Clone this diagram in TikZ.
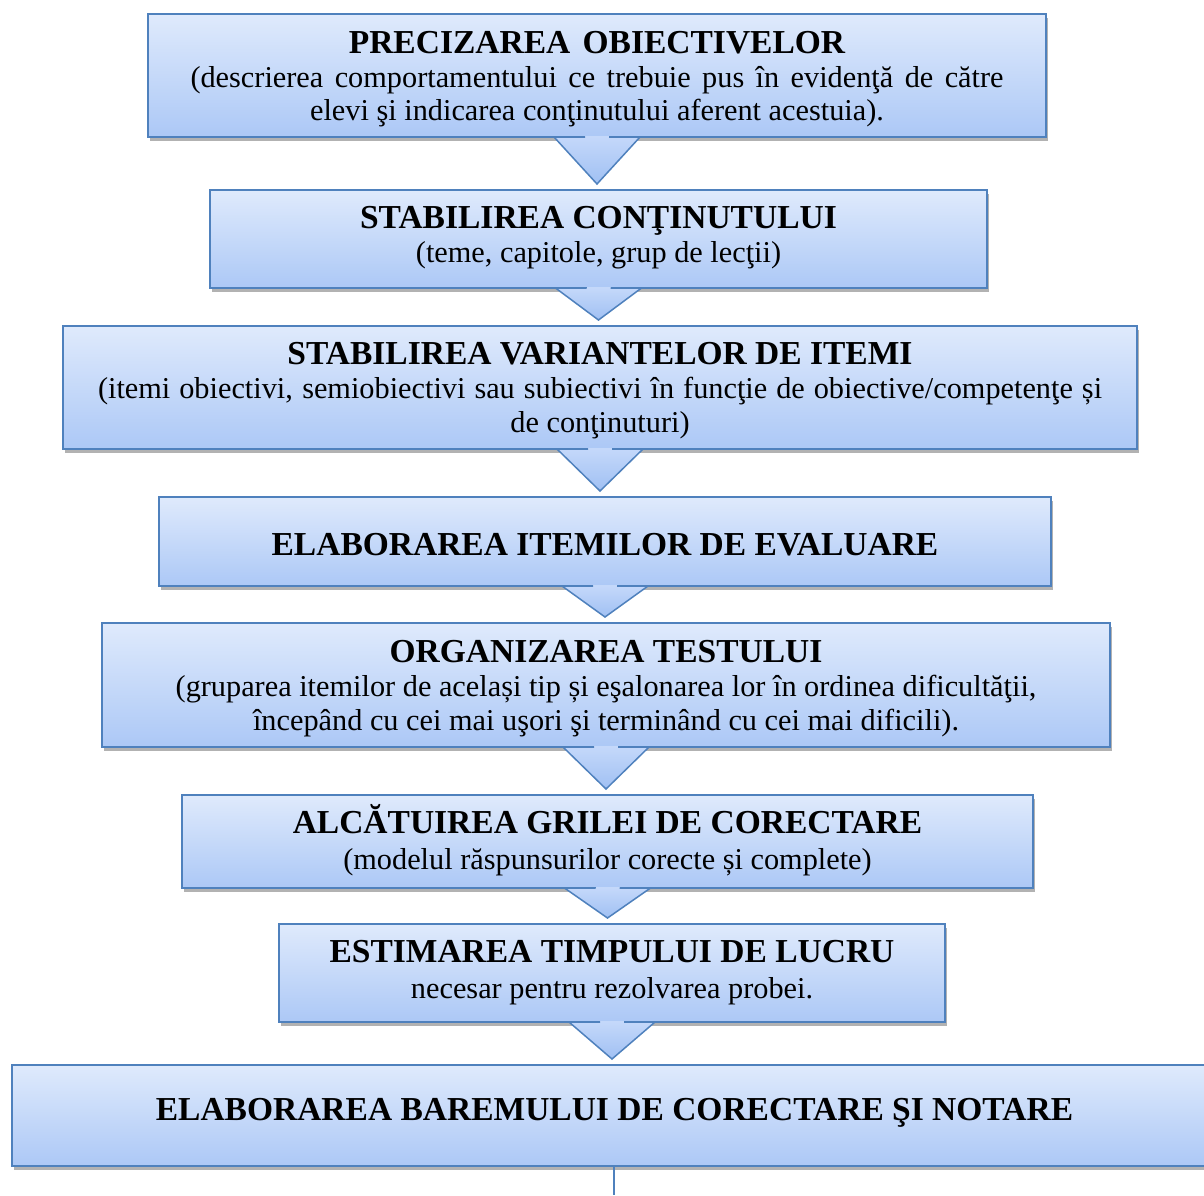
\documentclass[tikz,border=0pt]{standalone}
\usepackage{fontspec}
\setmainfont{Liberation Serif}
\usetikzlibrary{calc,shadows}
\definecolor{bordblue}{RGB}{79,129,189}
\definecolor{boxtop}{RGB}{223,234,252}
\definecolor{boxbot}{RGB}{172,200,246}
\definecolor{arrtop}{RGB}{196,216,250}
\definecolor{arrbot}{RGB}{160,192,243}
\newcommand\flowarrow[2]{%
  \path[top color=arrtop, bottom color=arrbot]
    ($(#1.south)+(-43,0)$) -- ($(#1.south)+(43,0)$) -- ($(#1.south |- #2.north)+(0,-6)$) -- cycle;
  \fill[arrtop] ($(#1.south)+(-12,-1.2)$) rectangle ($(#1.south)+(12,0.5)$);
  \draw[arrowline] ($(#1.south)+(-12,0)$) -- ($(#1.south)+(-43,0)$) -- ($(#1.south |- #2.north)+(0,-6)$) -- ($(#1.south)+(43,0)$) -- ($(#1.south)+(12,0)$);
}
\begin{document}
\begin{tikzpicture}[x=1pt,y=-1pt,
  box/.style={draw=bordblue, line width=1.5pt, top color=boxtop, bottom color=boxbot,
    outer sep=0pt, inner sep=0pt,
    drop shadow={shadow xshift=1.5pt, shadow yshift=-3.5pt, fill=black, opacity=0.3}},
  arrowline/.style={draw=bordblue, line width=1.5pt, line join=miter},
  ttl/.style={anchor=base, inner sep=0pt, font=\fontsize{33.5}{36}\selectfont\bfseries},
  bdy/.style={anchor=base, inner sep=0pt, font=\fontsize{30.3}{34}\selectfont}]
\useasboundingbox (0,0) rectangle (1204,1195);
\fill[white] (0,0) rectangle (1204,1195);
\clip (0,0) rectangle (1204,1195);

% boxes
\node[box, minimum width=898, minimum height=123] (b1) at (597,75.5) {};
\node[box, minimum width=777, minimum height=98] (b2) at (598.5,239) {};
\node[box, minimum width=1074, minimum height=123] (b3) at (600,387.5) {};
\node[box, minimum width=892, minimum height=89] (b4) at (605,541.5) {};
\node[box, minimum width=1008, minimum height=124] (b5) at (606,685) {};
\node[box, minimum width=851, minimum height=93] (b6) at (607.5,841.5) {};
\node[box, minimum width=666, minimum height=98] (b7) at (612,973) {};
\node[box, minimum width=1204, minimum height=101] (b8) at (614,1115.5) {};

% arrows
\flowarrow{b1}{b2}
\flowarrow{b2}{b3}
\flowarrow{b3}{b4}
\flowarrow{b4}{b5}
\flowarrow{b5}{b6}
\flowarrow{b6}{b7}
\flowarrow{b7}{b8}

% trailing line
\coordinate (tail) at (614,1195);
\draw[bordblue, line width=1.5pt] (b8.south) -- (tail);

% texts
\node[ttl] (t1a) at (597,53) {PRECIZAREA\hspace{4pt} OBIECTIVELOR};
\node[bdy] (t1b) at (597,87) {\makebox[813pt][s]{(descrierea comportamentului ce trebuie pus în evidenţă de către}};
\node[bdy] (t1c) at (597,120) {elevi şi indicarea conţinutului aferent acestuia).};

\node[ttl] (t2a) at (598.5,228) {STABILIREA CONŢINUTULUI};
\node[bdy] (t2b) at (598.5,262) {(teme, capitole, grup de lecţii)};

\node[ttl] (t3a) at (600,364) {STABILIREA VARIANTELOR DE ITEMI};
\node[bdy] (t3b) at (600,398) {\makebox[1004pt][s]{(itemi obiectivi, semiobiectivi sau subiectivi în funcţie de obiective/competenţe și}};
\node[bdy] (t3c) at (600,432) {de conţinuturi)};

\node[ttl] (t4a) at (605,555) {ELABORAREA ITEMILOR DE EVALUARE};

\node[ttl] (t5a) at (606,662) {ORGANIZAREA TESTULUI};
\node[bdy] (t5b) at (606,696) {(gruparea itemilor de același tip și eşalonarea lor în ordinea dificultăţii,};
\node[bdy] (t5c) at (606,730) {începând cu cei mai uşori şi terminând cu cei mai dificili).};

\node[ttl] (t6a) at (607.5,833) {ALCĂTUIREA GRILEI DE CORECTARE};
\node[bdy] (t6b) at (607.5,869) {(modelul răspunsurilor corecte și complete)};

\node[ttl] (t7a) at (612,962) {ESTIMAREA TIMPULUI DE LUCRU};
\node[bdy] (t7b) at (612,998) {necesar pentru rezolvarea probei.};

\node[ttl] (t8a) at (614.5,1120) {ELABORAREA BAREMULUI DE CORECTARE ŞI NOTARE};
\end{tikzpicture}
\end{document}
